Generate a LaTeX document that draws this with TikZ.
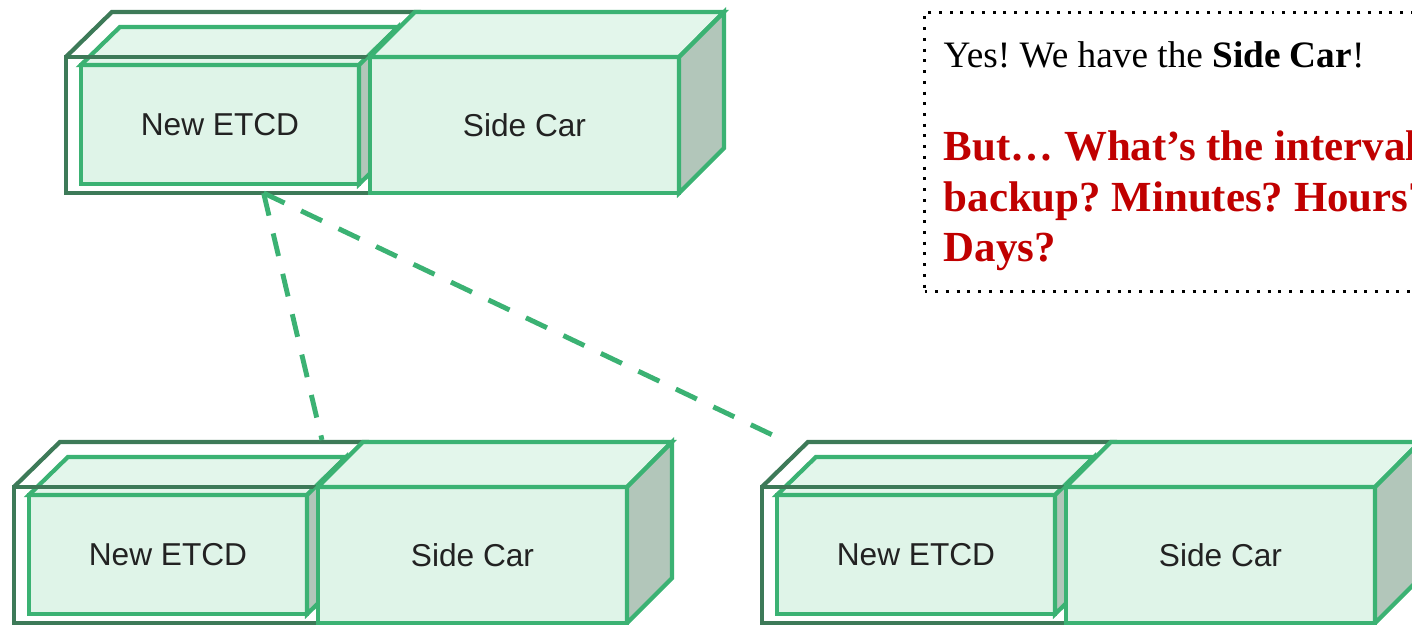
\documentclass[tikz,border=0pt]{standalone}
\usepackage{fontspec}
\setmainfont{Liberation Serif}
\newfontfamily\arialfont{Liberation Sans}
\usepackage{tikz}
\usetikzlibrary{positioning,calc}
\definecolor{etcdgreen}{HTML}{3BB273}
\definecolor{etcddark}{HTML}{3D7A58}
\definecolor{etcdfill}{HTML}{DFF4E8}
\definecolor{etcdlight}{HTML}{E3F6EB}
\definecolor{etcdgray}{HTML}{B2C6BA}
\definecolor{notered}{HTML}{C00000}
\definecolor{labelgray}{HTML}{222222}
\tikzset{
  etcdfront/.style = {draw=etcdgreen, fill=etcdfill, line width=1.2pt, rectangle,
                      outer sep=0pt, inner sep=0pt, text=labelgray,
                      font=\arialfont\fontsize{9}{10}\selectfont},
  etcdtop/.style   = {draw=etcdgreen, fill=etcdlight, line width=1.2pt},
  etcdside/.style  = {draw=etcdgreen, fill=etcdgray, line width=1.2pt},
  oldbox/.style    = {draw=etcddark, line width=1.2pt, rectangle, outer sep=0pt,
                      minimum width=3.04cm, minimum height=1.36cm},
  oldline/.style   = {draw=etcddark, line width=1.2pt},
  link/.style      = {draw=etcdgreen, line width=1.4pt, dash pattern=on 6.6pt off 5.2pt},
  notebox/.style   = {draw, line width=0.85pt, dash pattern=on 0.85pt off 2.2pt,
                      rectangle, minimum width=7cm, minimum height=2.79cm},
  notetext/.style  = {inner sep=0pt, font=\fontsize{10.6}{12.7}\selectfont},
  asktext/.style   = {inner sep=0pt, text=notered, font=\bfseries\fontsize{12.2}{14.2}\selectfont}
}
% one ETCD + side car pair, #1 = name, (#2,#3) = top left of the old box
\newcommand{\etcdgroup}[3]{%
  \begin{scope}[shift={(#2,#3)}]
    \node[etcdfront, minimum width=2.78cm, minimum height=1.19cm] (#1etcd) at (154,67.5) {\raisebox{-1pt}{New ETCD}};
    \draw[etcdtop] (#1etcd.north west) -- ++(39,-38) -- ++(278,0) -- (#1etcd.north east) -- cycle;
    \draw[etcdside] (#1etcd.north east) -- ++(39,-38) -- ++(0,119) -- (#1etcd.south east) -- cycle;
    \node[oldbox] (#1old) at (152,68) {};
    \draw[oldline] (#1old.north west) -- ++(46,-45) -- ++(304,0) -- (#1old.north east);
    \node[etcdfront, minimum width=3.09cm, minimum height=1.36cm] (#1car) at (458.5,68) {\raisebox{-1pt}{Side Car}};
    \draw[etcdtop] (#1car.north west) -- ++(45,-45) -- ++(309,0) -- (#1car.north east) -- cycle;
    \draw[etcdside] (#1car.north east) -- ++(45,-45) -- ++(0,136) -- (#1car.south east) -- cycle;
  \end{scope}}
\frenchspacing

\begin{document}
\begin{tikzpicture}[x=0.01cm, y=-0.01cm]
  \useasboundingbox (0,0) rectangle (1412,624);
  \etcdgroup{A}{66}{57}
  \etcdgroup{B}{14}{487}
  \etcdgroup{C}{762}{487}

  \coordinate (linkA) at ($(Aold.south west)!0.65!(Aold.south east)$);
  \coordinate (linkB) at (322,440);
  \coordinate (linkC) at (783,440);
  \draw[link] (linkA) -- (linkB);
  \draw[link] (linkA) -- (linkC);

  \node[notebox, anchor=north west] (note) at (923,11) {};
  \node[notetext, anchor=base west] (yes) at (943,67) {Yes! We have the \textbf{Side Car}!};
  \node[asktext, anchor=base west] (ask1) at (943,160) {But… What’s the interval};
  \node[asktext, anchor=base west] (ask2) at (943,211) {backup? Minutes? Hours?};
  \node[asktext, anchor=base west] (ask3) at (943,261) {Days?};
\end{tikzpicture}
\end{document}
